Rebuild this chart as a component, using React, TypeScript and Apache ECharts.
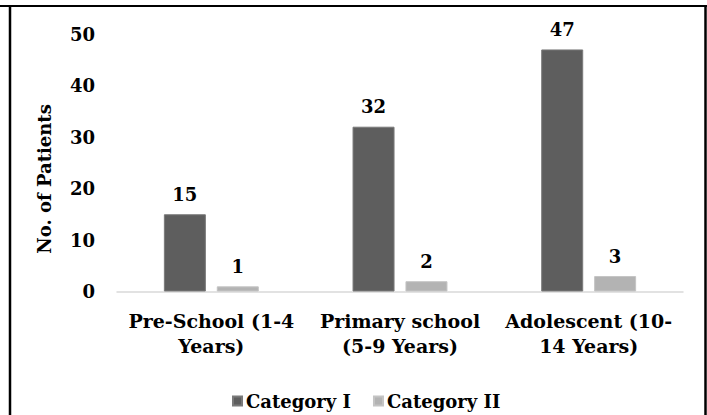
import React, { useEffect, useRef } from "react";
import * as echarts from "echarts";

const categories = ["Pre-School (1-4\nYears)", "Primary school\n(5-9 Years)", "Adolescent (10-\n14 Years)"];
const seriesNames = ["Category I", "Category II"];
const categoryI = [15, 32, 47];
const categoryII = [1, 2, 3];
const yAxisTitle = "No. of Patients";

const FONT = "'DejaVu Serif', serif";

export default function App() {
  const ref = useRef<HTMLDivElement>(null);
  useEffect(() => {
    if (!ref.current) return;
    const chart = echarts.init(ref.current, null, { renderer: "svg" });
    const labelStyle = {
      show: true,
      position: "top" as const,
      distance: 11,
      fontFamily: FONT,
      fontWeight: "bold" as const,
      fontSize: 18,
      color: "#000",
    };
    chart.setOption({
      animation: false,
      backgroundColor: "#fff",
      textStyle: { fontFamily: FONT },
      grid: { left: 117, right: 24, top: 34, bottom: 123.5, containLabel: false },
      legend: {
        top: 387,
        left: 227,
        itemWidth: 9,
        itemHeight: 9,
        itemGap: 22,
        icon: "rect",
        textStyle: { fontFamily: FONT, fontWeight: "bold", fontSize: 18, color: "#000", padding: [0, 0, 0, -1] },
        data: seriesNames,
      },
      xAxis: {
        type: "category",
        data: categories,
        axisLine: { lineStyle: { color: "#d9d9d9", width: 1.5 } },
        axisTick: { show: false },
        axisLabel: {
          fontFamily: FONT,
          fontWeight: "bold",
          fontSize: 19,
          color: "#000",
          lineHeight: 25,
          margin: 17,
          interval: 0,
        },
      },
      yAxis: {
        type: "value",
        min: 0,
        max: 50,
        interval: 10,
        splitLine: { show: false },
        axisLine: { show: false },
        axisTick: { show: false },
        axisLabel: { fontFamily: FONT, fontWeight: "bold", fontSize: 18, color: "#000", margin: 22 },
      },
      series: [
        {
          name: seriesNames[0],
          type: "bar",
          data: categoryI,
          barWidth: 42,
          barGap: "26%",
          itemStyle: { color: "#5e5e5e", borderColor: "#7a7a7a", borderWidth: 1 },
          label: labelStyle,
        },
        {
          name: seriesNames[1],
          type: "bar",
          data: categoryII,
          barWidth: 42,
          barGap: "26%",
          itemStyle: { color: "#b3b3b3", borderColor: "#c4c4c4", borderWidth: 1 },
          label: labelStyle,
        },
      ],
      graphic: [
        { type: "line", shape: { x1: 0, y1: 6, x2: 707, y2: 6 }, style: { stroke: "#000", lineWidth: 2 } },
        { type: "line", shape: { x1: 10, y1: 6, x2: 10, y2: 415 }, style: { stroke: "#000", lineWidth: 2.5 } },
        { type: "line", shape: { x1: 705.5, y1: 6, x2: 705.5, y2: 415 }, style: { stroke: "#000", lineWidth: 2.5 } },
        {
          type: "text",
          x: 44,
          y: 179,
          rotation: Math.PI / 2,
          style: {
            text: yAxisTitle,
            fontFamily: FONT,
            fontWeight: "bold",
            fontSize: 18,
            fill: "#000",
            align: "center",
            verticalAlign: "middle",
          },
        },
      ],
    });
    return () => chart.dispose();
  }, []);
  return <div ref={ref} style={{ position: "fixed", left: 0, top: 0, width: 707, height: 415 }} />;
}
